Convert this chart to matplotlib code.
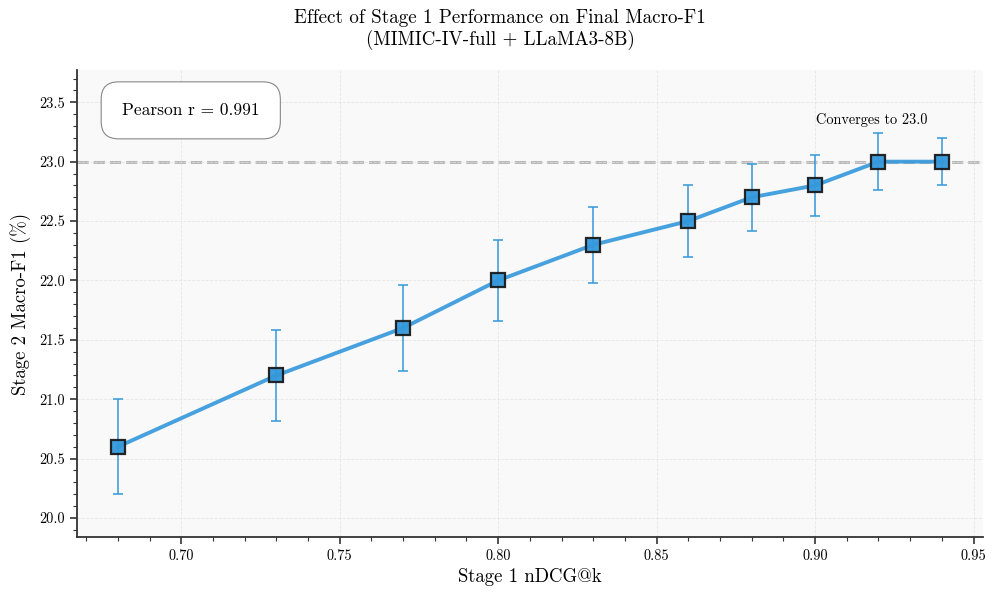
import matplotlib
matplotlib.use("Agg")
import matplotlib.pyplot as plt
from matplotlib.ticker import MultipleLocator

plt.rcParams['font.family'] = 'serif'
plt.rcParams['font.serif'] = ['cmr10', 'DejaVu Serif']
plt.rcParams['mathtext.fontset'] = 'cm'
plt.rcParams['axes.formatter.use_mathtext'] = True

ndcg = [0.68, 0.73, 0.77, 0.80, 0.83, 0.86, 0.88, 0.90, 0.92, 0.94]
macro_f1 = [20.6, 21.2, 21.6, 22.0, 22.3, 22.5, 22.7, 22.8, 23.0, 23.0]
f1_err = [0.40, 0.38, 0.36, 0.34, 0.32, 0.30, 0.28, 0.26, 0.24, 0.20]
converge_value = 23.0
pearson_r = 0.991

fig, ax = plt.subplots(figsize=(9.96, 6.0), dpi=100)
fig.subplots_adjust(left=0.077, right=0.987, top=0.883, bottom=0.105)
ax.set_facecolor('#f9f9f9')

ax.errorbar(ndcg, macro_f1, yerr=f1_err, fmt='none', ecolor='#3498db',
            elinewidth=1.3, capsize=3.5, capthick=1.3, alpha=0.85, zorder=2)
ax.plot(ndcg, macro_f1, color='#3498db', lw=2.8, alpha=0.9, zorder=3)
ax.plot(ndcg, macro_f1, ls='none', marker='s', ms=9.5, mfc='#3498db',
        mec='#1a1a1a', mew=1.6, alpha=0.95, zorder=4)

ax.axhline(converge_value, color='#999999', ls='--', lw=2.2, alpha=0.65, zorder=1)
ax.text(0.918, converge_value + 0.35, f'Converges to {converge_value:.1f}',
        ha='center', va='center', fontsize=10.3)

ax.text(0.05, 0.914, f'Pearson r = {pearson_r:.3f}', transform=ax.transAxes,
        ha='left', va='center', fontsize=12.5,
        bbox=dict(boxstyle='round,pad=1.2,rounding_size=1.0', fc='white',
                  ec='#888888', lw=0.8))

ax.set_ylim(19.84, 23.77)
ax.xaxis.set_major_locator(MultipleLocator(0.05))
ax.xaxis.set_minor_locator(MultipleLocator(0.01))
ax.yaxis.set_major_locator(MultipleLocator(0.5))
ax.yaxis.set_minor_locator(MultipleLocator(0.1))
ax.xaxis.set_major_formatter(plt.FormatStrFormatter('%.2f'))
ax.yaxis.set_major_formatter(plt.FormatStrFormatter('%.1f'))
ax.tick_params(axis='both', which='major', labelsize=10.3, length=5, width=1.2, color='#333333')
ax.tick_params(axis='both', which='minor', length=3, width=0.8, color='#333333')

ax.grid(True, which='major', ls='--', lw=0.6, color='#e0e0e0', alpha=0.8)
for s in ['top', 'right']:
    ax.spines[s].set_visible(False)
for s in ['left', 'bottom']:
    ax.spines[s].set_linewidth(1.3)
    ax.spines[s].set_color('#333333')

ax.set_xlabel('Stage 1 nDCG@k', fontsize=13.5, labelpad=4)
ax.set_ylabel('Stage 2 Macro-F1 (%)', fontsize=13.5, labelpad=6)
fig.suptitle('Effect of Stage 1 Performance on Final Macro-F1\n(MIMIC-IV-full + LLaMA3-8B)',
             fontsize=13.7, x=0.502, y=0.985)

fig.savefig('out.png', dpi=100)
